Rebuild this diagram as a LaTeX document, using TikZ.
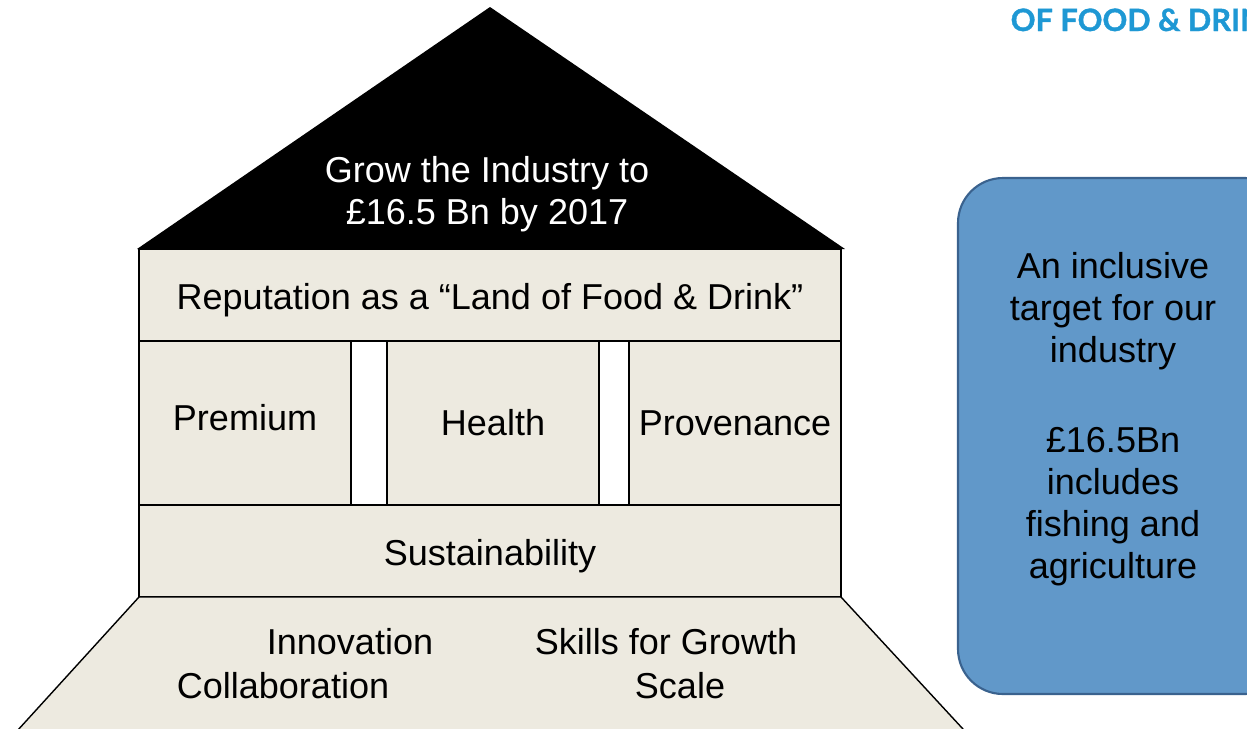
\documentclass[tikz,border=0pt]{standalone}
\usepackage{fontspec}
\setmainfont{Liberation Sans}
\newfontfamily\logofont{Lato}[BoldFeatures={FakeBold=1.2}]
\usepackage{xcolor}
\definecolor{housebg}{RGB}{237,234,224}
\definecolor{boxblue}{RGB}{97,152,201}
\definecolor{boxedge}{RGB}{58,98,142}
\definecolor{logoblue}{RGB}{30,152,212}

\begin{document}
\begin{tikzpicture}[x=0.02cm, y=-0.02cm, line width=0.8pt, font=\fontsize{20.5}{24}\selectfont,
    band/.style = {draw, fill=housebg, rectangle, inner sep=0pt, minimum width=14.04cm, minimum height=1.84cm},
    pillar/.style = {draw, fill=housebg, rectangle, inner sep=0pt, minimum width=4.24cm, minimum height=3.28cm},
    gap/.style = {draw, fill=white, rectangle, inner sep=0pt, minimum height=3.28cm}]
          \clip (0,0) rectangle (1247,728);
          \useasboundingbox (0,0) rectangle (1247,728);

          % roof
          \fill (137,249) -- (490,7) -- (845,249) -- cycle;
          \node[white, align=center] (n_roof) at (487,194) {Grow the Industry to\\ £16.5 Bn by 2017};

          \node[band] (n_rep) at (490,295) {\rule{0pt}{1em}Reputation as a “Land of Food \& Drink”};
          \node[pillar, text depth=6.8pt] (n_prem) at (245,423) {Premium};
          \node[gap, minimum width=0.72cm] (n_gap1) at (369,423) {};
          \node[pillar] (n_health) at (493,423) {Health};
          \node[gap, minimum width=0.6cm] (n_gap2) at (614,423) {};
          \node[pillar] (n_prov) at (735,423) {Provenance};
          \node[band] (n_sust) at (490,551) {\rule{0pt}{1em}Sustainability};

          % foundation
          \draw[fill=housebg] (139,597) -- (841,597) -- (975,742) -- (7,742) -- cycle;
          \node (n_innov) at (350,642) {Innovation};
          \node (n_skills) at (666,642) {Skills for Growth};
          \node (n_collab) at (283,686) {Collaboration};
          \node (n_scale) at (680,686) {Scale};

          % side box
          \draw[draw=boxedge, line width=1.2pt, fill=boxblue, rounded corners=0.9cm] (958,178) rectangle (1290,694);
          \node[align=center] (n_target) at (1113,419) {An inclusive\\ target for our\\ industry\\[27pt] £16.5Bn\\ includes\\ fishing and\\ agriculture};

          \node[anchor=base west, inner sep=0pt, text=logoblue, font=\logofont\bfseries\fontsize{17.5}{20}\selectfont] (n_logo) at (1010,31) {OF FOOD \& DRIN};
        \end{tikzpicture}
\end{document}
